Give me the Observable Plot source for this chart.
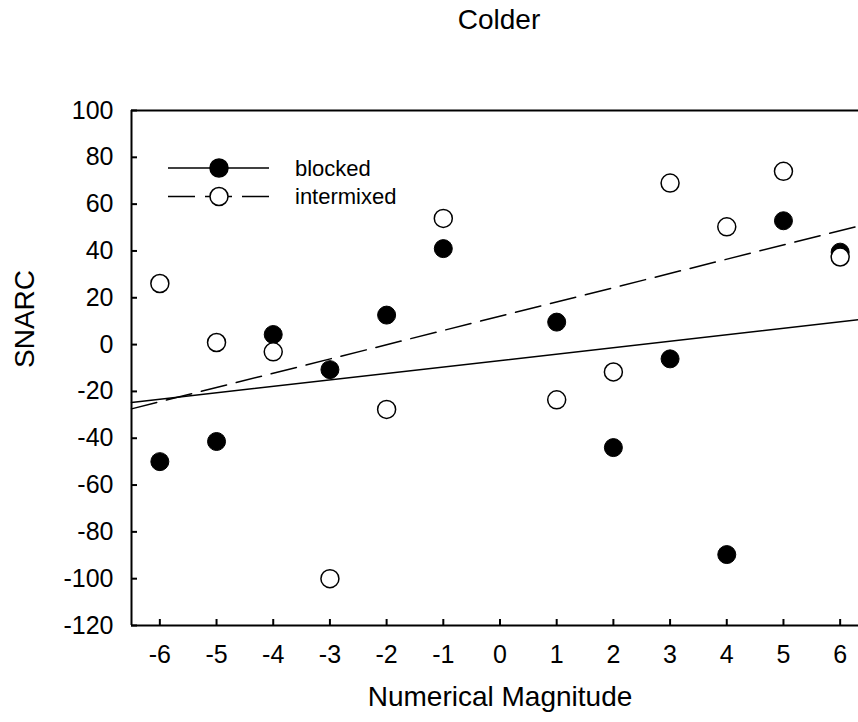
<!DOCTYPE html>
<html>
<head>
<meta charset="utf-8">
<script src="https://cdn.jsdelivr.net/npm/d3@7"></script>
<script src="https://cdn.jsdelivr.net/npm/@observablehq/plot@0.6"></script>
<style>
html, body { margin: 0; padding: 0; background: #fff; overflow: hidden; }
#wrap { position: relative; width: 858px; height: 722px; overflow: hidden;
  font-family: Arial, "Liberation Sans", sans-serif; color: #000; }
#title { height: 44px; box-sizing: border-box; padding-top: 6px; padding-left: 140px;
  text-align: center; font-size: 28px; line-height: 28px; }
#legend { position: absolute; left: 0; top: 0; }
#legend text { font-family: Arial, "Liberation Sans", sans-serif; font-size: 22px; fill: #000; }
</style>
</head>
<body>
<div id="wrap">
  <div id="title">Colder</div>
  <div id="chart"></div>
  <svg id="legend" width="420" height="230"></svg>
</div>
<script>
// ---- data ----
const magnitudes = [-6, -5, -4, -3, -2, -1, 1, 2, 3, 4, 5, 6];
const blocked    = [-50, -41.4, 4.3, -10.7, 12.6, 41, 9.6, -44, -6.1, -89.7, 52.9, 39.5];
const intermixed = [26.1, 0.9, -3.1, -100, -27.7, 53.9, -23.6, -11.7, 69, 50.3, 74, 37.4];
const seriesNames = ["blocked", "intermixed"];
const xTicks = [-6, -5, -4, -3, -2, -1, 0, 1, 2, 3, 4, 5, 6];
const yTicks = [-120, -100, -80, -60, -40, -20, 0, 20, 40, 60, 80, 100];
const xDomain = [-6.5, 6.5];
const yDomain = [-120, 100];

// ---- derived ----
const rows = (ys) => magnitudes.map((m, i) => ({x: m, y: ys[i]}));
const blockedRows = rows(blocked);
const intermixedRows = rows(intermixed);
function fit(ys) {
  const mx = d3.mean(magnitudes), my = d3.mean(ys);
  const sxy = d3.sum(magnitudes, (m, i) => (m - mx) * (ys[i] - my));
  const sxx = d3.sum(magnitudes, (m) => (m - mx) ** 2);
  const b = sxy / sxx, a = my - b * mx;
  return xDomain.map((x) => ({x, y: a + b * x}));
}
const blockedFit = fit(blocked);
const intermixedFit = fit(intermixed);

const FONT = 'Arial, "Liberation Sans", sans-serif';
const W = 858, H = 678, mT = 66, mL = 131, mR = -10, mB = 97;
const frameW = W - mL - mR, frameH = H - mT - mB;
const TICK = 6;

const chart = Plot.plot({
  width: W,
  height: H,
  marginTop: mT,
  marginLeft: mL,
  marginRight: mR,
  marginBottom: mB,
  x: {domain: xDomain},
  y: {domain: yDomain},
  style: {fontFamily: FONT, color: "#000", background: "transparent"},
  marks: [
    Plot.line(blockedFit, {x: "x", y: "y", stroke: "#000", strokeWidth: 1.5}),
    Plot.line(intermixedFit, {x: "x", y: "y", stroke: "#000", strokeWidth: 1.5, strokeDasharray: "26,10"}),
    // inward tick marks
    Plot.tickX(xTicks, {x: (d) => d, insetTop: frameH - TICK, stroke: "#000", strokeWidth: 2}),
    Plot.tickY(yTicks, {y: (d) => d, insetRight: frameW - TICK, stroke: "#000", strokeWidth: 2}),
    // axis lines
    Plot.ruleX([xDomain[0]], {stroke: "#000", strokeWidth: 2}),
    Plot.ruleY([yDomain[0]], {stroke: "#000", strokeWidth: 2}),
    Plot.ruleY([yDomain[1]], {stroke: "#000", strokeWidth: 2}),
    // tick labels
    Plot.axisX({ticks: xTicks, tickSize: 0, tickPadding: 20, tickFormat: (d) => String(d),
      fontSize: 25, label: null}),
    Plot.axisY({ticks: yTicks, tickSize: 0, tickPadding: 18, tickFormat: (d) => String(d),
      fontSize: 25, label: null}),
    Plot.text(["Numerical Magnitude"], {frameAnchor: "bottom", text: (d) => d, dy: 80, fontSize: 28}),
    Plot.text(["SNARC"], {frameAnchor: "left", text: (d) => d, rotate: -90, dx: -106, fontSize: 28}),
    Plot.dot(blockedRows, {x: "x", y: "y", r: 9, fill: "#000", stroke: "#000", strokeWidth: 1}),
    Plot.dot(intermixedRows, {x: "x", y: "y", r: 9, fill: "#fff", stroke: "#000", strokeWidth: 1.5})
  ]
});
document.getElementById("chart").appendChild(chart);

// ---- legend (inside plot area, top-left) ----
const leg = d3.select("#legend");
const items = [
  {name: seriesNames[0], fill: "#000", dash: null},
  {name: seriesNames[1], fill: "#fff", dash: "27,10"}
];
items.forEach((it, i) => {
  const cy = 168 + i * 28.5;
  leg.append("line").attr("x1", 168).attr("x2", 269).attr("y1", cy).attr("y2", cy)
    .attr("stroke", "#000").attr("stroke-width", 1.5).attr("stroke-dasharray", it.dash);
  leg.append("circle").attr("cx", 219).attr("cy", cy).attr("r", 9)
    .attr("fill", it.fill).attr("stroke", "#000").attr("stroke-width", 1.5);
  leg.append("text").attr("x", 295).attr("y", cy).attr("dy", "0.35em").text(it.name);
});
</script>
</body>
</html>
